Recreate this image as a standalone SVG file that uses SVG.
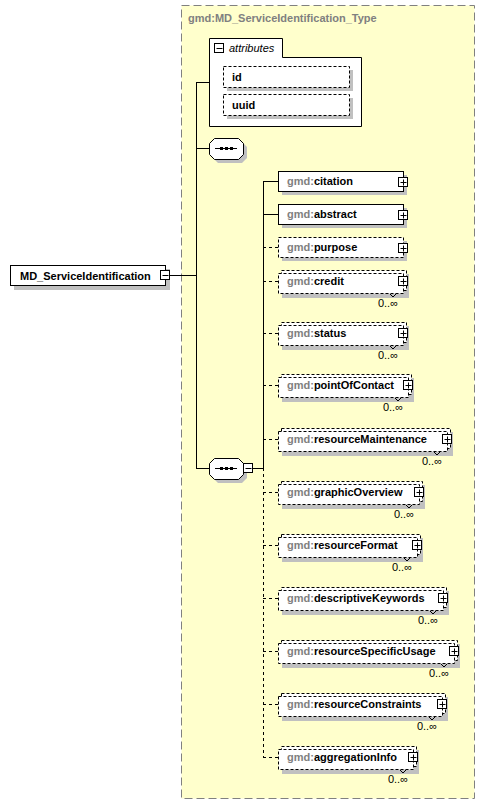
<svg xmlns="http://www.w3.org/2000/svg" width="486" height="805" viewBox="0 0 486 805">
<style>
.sh{fill:#c0c0c0;stroke:none}
.box{fill:#fff;stroke:#000;stroke-width:1}
.dbox{fill:#fff;stroke:#000;stroke-width:1;stroke-dasharray:3,2}
.t{font-family:"Liberation Sans",Arial,sans-serif;font-size:11px;font-weight:bold;fill:#000}
.ns{fill:#808080}
.occ{font-family:"Liberation Sans",Arial,sans-serif;font-size:11px;fill:#000;text-anchor:end}
.ln{stroke:#000;stroke-width:1;fill:none}
.dl{stroke:#000;stroke-width:1;fill:none;stroke-dasharray:3,3}
.ic{fill:#fff;stroke:#000;stroke-width:1}
</style>
<defs>
<g id="plus"><rect class="ic" x="-4.5" y="-4.5" width="9" height="9"/><path class="ln" d="M-2.5,0.5H3.5M0.5,-2.5V3.5"/></g>
<g id="minus"><rect class="ic" x="-4.5" y="-4.5" width="9" height="9"/><path class="ln" d="M-2.5,0.5H3.5"/></g>
</defs>
<rect width="486" height="805" fill="#fff"/>
<g id="type">
<rect x="181.5" y="5.5" width="293" height="793" fill="#ffffcc" stroke="#808080" stroke-dasharray="8,4"/>
<text class="t ns" x="188" y="22">gmd:MD_ServiceIdentification_Type</text>
</g>
<g id="attributes">
<path d="M209.5,126.5V38.5H282.5V57.5H361.5V126.5Z" fill="#fff" stroke="#000"/>
<use href="#minus" x="219" y="48"/>
<text x="229" y="52" font-family="Liberation Sans, Arial, sans-serif" font-size="11" font-style="italic">attributes</text>
<rect class="sh" x="227" y="70" width="126" height="21"/>
<rect class="dbox" x="223.5" y="66.5" width="126" height="21"/>
<text class="t" x="232" y="81">id</text>
<rect class="sh" x="227" y="98" width="126" height="21"/>
<rect class="dbox" x="223.5" y="94.5" width="126" height="21"/>
<text class="t" x="232" y="109">uuid</text>
</g>
<g id="connectors">
<path class="ln" d="M170,275.5H196.5M196.5,82V468M196,82.5H209M196,148.5H209M196,468.5H209M253,468.5H263.5M263.5,181V468"/>
<path class="dl" d="M263.5,468V757"/>
<path class="ln" d="M263,181.5H278M263,214.5H278"/>
<path class="dl" d="M263,247.5H278M263,281.5H278M263,333.5H278M263,385.5H278M263,439.5H278M263,492.5H278M263,545.5H278M263,598.5H278M263,651.5H278M263,704.5H278M263,757.5H278"/>
</g>
<g id="root">
<rect class="sh" x="14" y="269" width="156" height="21"/>
<rect class="box" x="10.5" y="265.5" width="155" height="20"/>
<text class="t" x="20" y="280">MD_ServiceIdentification</text>
<use href="#minus" x="165" y="275"/>
</g>
<g id="seq1">
<polygon class="sh" points="218,142 242,142 247,147 247,158 242,163 218,163 213,158 213,147"/>
<polygon class="box" points="214.5,138.5 238.5,138.5 243.5,143.5 243.5,154.5 238.5,159.5 214.5,159.5 209.5,154.5 209.5,143.5"/>
<path class="ln" d="M215,148.5H237"/>
<rect x="220" y="147" width="3" height="3"/><rect x="225" y="147" width="3" height="3"/><rect x="230" y="147" width="3" height="3"/>
</g>
<g id="seq2">
<polygon class="sh" points="218,462 242,462 247,467 247,478 242,483 218,483 213,478 213,467"/>
<polygon class="box" points="214.5,458.5 238.5,458.5 243.5,463.5 243.5,474.5 238.5,479.5 214.5,479.5 209.5,474.5 209.5,463.5"/>
<path class="ln" d="M215,468.5H237"/>
<rect x="220" y="467" width="3" height="3"/><rect x="225" y="467" width="3" height="3"/><rect x="230" y="467" width="3" height="3"/>
<use href="#minus" x="248" y="468"/>
</g>
<g id="citation">
<rect class="sh" x="282" y="175" width="125" height="20"/>
<rect class="box" x="278.5" y="171.5" width="125" height="20"/>
<text class="t" x="287" y="185"><tspan class="ns">gmd:</tspan>citation</text>
<use href="#plus" x="403" y="182"/>
</g>
<g id="abstract">
<rect class="sh" x="282" y="208" width="125" height="20"/>
<rect class="box" x="278.5" y="204.5" width="125" height="20"/>
<text class="t" x="287" y="218"><tspan class="ns">gmd:</tspan>abstract</text>
<use href="#plus" x="403" y="215"/>
</g>
<g id="purpose">
<rect class="sh" x="282" y="241" width="125" height="20"/>
<rect class="dbox" x="278.5" y="237.5" width="125" height="20"/>
<text class="t" x="287" y="251"><tspan class="ns">gmd:</tspan>purpose</text>
<use href="#plus" x="403" y="248"/>
</g>
<g id="credit">
<rect class="sh" x="282" y="274" width="127" height="24"/>
<rect class="dbox" x="281.5" y="270.5" width="125" height="20"/>
<rect class="dbox" x="278.5" y="273.5" width="125" height="20"/>
<path class="ln" d="M390,294l3,3l3,-3"/>
<text class="t" x="287" y="285"><tspan class="ns">gmd:</tspan>credit</text>
<use href="#plus" x="403" y="281"/>
<text class="occ" x="398" y="307">0..∞</text>
</g>
<g id="status">
<rect class="sh" x="282" y="326" width="127" height="24"/>
<rect class="dbox" x="281.5" y="322.5" width="125" height="20"/>
<rect class="dbox" x="278.5" y="325.5" width="125" height="20"/>
<path class="ln" d="M390,346l3,3l3,-3"/>
<text class="t" x="287" y="337"><tspan class="ns">gmd:</tspan>status</text>
<use href="#plus" x="403" y="333"/>
<text class="occ" x="398" y="359">0..∞</text>
</g>
<g id="pointOfContact">
<rect class="sh" x="282" y="378" width="132" height="24"/>
<rect class="dbox" x="281.5" y="374.5" width="130" height="20"/>
<rect class="dbox" x="278.5" y="377.5" width="130" height="20"/>
<path class="ln" d="M395,398l3,3l3,-3"/>
<text class="t" x="287" y="389"><tspan class="ns">gmd:</tspan>pointOfContact</text>
<use href="#plus" x="408" y="385"/>
<text class="occ" x="403" y="411">0..∞</text>
</g>
<g id="resourceMaintenance">
<rect class="sh" x="282" y="432" width="171" height="24"/>
<rect class="dbox" x="281.5" y="428.5" width="169" height="20"/>
<rect class="dbox" x="278.5" y="431.5" width="169" height="20"/>
<path class="ln" d="M434,452l3,3l3,-3"/>
<text class="t" x="287" y="443"><tspan class="ns">gmd:</tspan>resourceMaintenance</text>
<use href="#plus" x="447" y="439"/>
<text class="occ" x="442" y="465">0..∞</text>
</g>
<g id="graphicOverview">
<rect class="sh" x="282" y="485" width="143" height="24"/>
<rect class="dbox" x="281.5" y="481.5" width="141" height="20"/>
<rect class="dbox" x="278.5" y="484.5" width="141" height="20"/>
<path class="ln" d="M406,505l3,3l3,-3"/>
<text class="t" x="287" y="496"><tspan class="ns">gmd:</tspan>graphicOverview</text>
<use href="#plus" x="419" y="492"/>
<text class="occ" x="414" y="518">0..∞</text>
</g>
<g id="resourceFormat">
<rect class="sh" x="282" y="538" width="141" height="24"/>
<rect class="dbox" x="281.5" y="534.5" width="139" height="20"/>
<rect class="dbox" x="278.5" y="537.5" width="139" height="20"/>
<path class="ln" d="M404,558l3,3l3,-3"/>
<text class="t" x="287" y="549"><tspan class="ns">gmd:</tspan>resourceFormat</text>
<use href="#plus" x="417" y="545"/>
<text class="occ" x="412" y="571">0..∞</text>
</g>
<g id="descriptiveKeywords">
<rect class="sh" x="282" y="591" width="167" height="24"/>
<rect class="dbox" x="281.5" y="587.5" width="165" height="20"/>
<rect class="dbox" x="278.5" y="590.5" width="165" height="20"/>
<path class="ln" d="M430,611l3,3l3,-3"/>
<text class="t" x="287" y="602"><tspan class="ns">gmd:</tspan>descriptiveKeywords</text>
<use href="#plus" x="443" y="598"/>
<text class="occ" x="438" y="624">0..∞</text>
</g>
<g id="resourceSpecificUsage">
<rect class="sh" x="282" y="644" width="178" height="24"/>
<rect class="dbox" x="281.5" y="640.5" width="176" height="20"/>
<rect class="dbox" x="278.5" y="643.5" width="176" height="20"/>
<path class="ln" d="M441,664l3,3l3,-3"/>
<text class="t" x="287" y="655"><tspan class="ns">gmd:</tspan>resourceSpecificUsage</text>
<use href="#plus" x="454" y="651"/>
<text class="occ" x="449" y="677">0..∞</text>
</g>
<g id="resourceConstraints">
<rect class="sh" x="282" y="697" width="166" height="24"/>
<rect class="dbox" x="281.5" y="693.5" width="164" height="20"/>
<rect class="dbox" x="278.5" y="696.5" width="164" height="20"/>
<path class="ln" d="M429,717l3,3l3,-3"/>
<text class="t" x="287" y="708"><tspan class="ns">gmd:</tspan>resourceConstraints</text>
<use href="#plus" x="442" y="704"/>
<text class="occ" x="437" y="730">0..∞</text>
</g>
<g id="aggregationInfo">
<rect class="sh" x="282" y="750" width="137" height="24"/>
<rect class="dbox" x="281.5" y="746.5" width="135" height="20"/>
<rect class="dbox" x="278.5" y="749.5" width="135" height="20"/>
<path class="ln" d="M400,770l3,3l3,-3"/>
<text class="t" x="287" y="761"><tspan class="ns">gmd:</tspan>aggregationInfo</text>
<use href="#plus" x="413" y="757"/>
<text class="occ" x="408" y="783">0..∞</text>
</g>
</svg>
